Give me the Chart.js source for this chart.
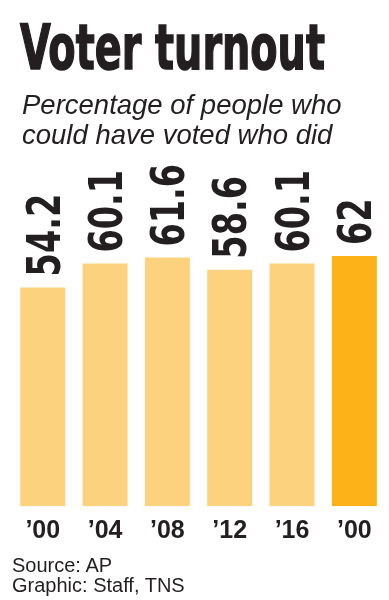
<!DOCTYPE html>
<html>
<head>
<meta charset="utf-8">
<script src="https://cdn.jsdelivr.net/npm/chart.js@4.4.1/dist/chart.umd.min.js"></script>
<style>
    html, body { margin: 0; padding: 0; background: #fff; }
    #wrap { position: relative; width: 389px; height: 600px; overflow: hidden; color: #231f20; }
    #chart-box { position: absolute; left: 0; top: 0; width: 389px; height: 600px; }
    .txt { position: absolute; white-space: nowrap; font-family: "Liberation Sans", Arial, sans-serif; }
    #title {
        left: 20px; top: 17px;
        font-family: "DejaVu Sans Condensed", sans-serif;
        font-weight: bold; font-size: 62px; line-height: 62px;
        -webkit-text-stroke: 1.5px #231f20;
        transform-origin: left top;
        display: inline-block;
    }
    #subtitle { left: 22px; top: 90px; font-style: italic; font-size: 27.5px; line-height: 30px; }
    #source { left: 12px; top: 555px; font-size: 20px; line-height: 20px; }
</style>
</head>
<body>
<div id="wrap">
    <div id="chart-box"><canvas id="turnoutChart" width="389" height="600"></canvas></div>
    <div class="txt" id="title">Voter turnout</div>
    <div class="txt" id="subtitle">Percentage of people who<br>could have voted who did</div>
    <div class="txt" id="source">Source: AP<br>Graphic: Staff, TNS</div>
</div>
<script>
// Chart data
const years = ['\u201900', '\u201904', '\u201908', '\u201912', '\u201916', '\u201900'];
const turnout = [54.2, 60.1, 61.6, 58.6, 60.1, 62];
const barColors = ['#fdd27e', '#fdd27e', '#fdd27e', '#fdd27e', '#fdd27e', '#fdb318'];

// Squeeze the headline to the width it has in the print graphic
const title = document.getElementById('title');
title.style.transform = 'scaleX(' + (305 / title.offsetWidth) + ')';

// Rotated value labels above each bar
const valueLabels = {
    id: 'valueLabels',
    afterDatasetsDraw(chart) {
        const ctx = chart.ctx;
        const meta = chart.getDatasetMeta(0);
        const size = 46;
        ctx.save();
        ctx.fillStyle = '#231f20';
        ctx.font = 'bold ' + size + 'px "DejaVu Sans Condensed", sans-serif';
        ctx.textAlign = 'left';
        ctx.textBaseline = 'alphabetic';
        meta.data.forEach((bar, i) => {
            const capHalf = size * 0.729 / 2;
            ctx.save();
            ctx.translate(bar.x + capHalf, bar.y - 11);
            ctx.rotate(-Math.PI / 2);
            ctx.scale(0.81, 1); // condensed like the print face
            ctx.fillText(String(turnout[i]), 0, 0);
            ctx.restore();
        });
        ctx.restore();
    }
};

const ctx = document.getElementById('turnoutChart').getContext('2d');
new Chart(ctx, {
    type: 'bar',
    data: {
        labels: years,
        datasets: [{
            data: turnout,
            backgroundColor: barColors,
            borderWidth: 0,
            barPercentage: 0.722,
            categoryPercentage: 1
        }]
    },
    options: {
        responsive: false,
        animation: false,
        layout: {
            padding: { left: 11.6, right: 3.5, top: 183.3, bottom: 43.8 }
        },
        plugins: {
            legend: { display: false },
            tooltip: { enabled: false }
        },
        scales: {
            x: {
                grid: { display: false, drawTicks: false },
                border: { display: false },
                ticks: {
                    padding: 10,
                    color: '#231f20',
                    font: { family: '"Liberation Sans", Arial, sans-serif', weight: 'bold', size: 25 }
                }
            },
            y: {
                display: false,
                min: 0,
                max: 80
            }
        }
    },
    plugins: [valueLabels]
});
</script>
</body>
</html>
